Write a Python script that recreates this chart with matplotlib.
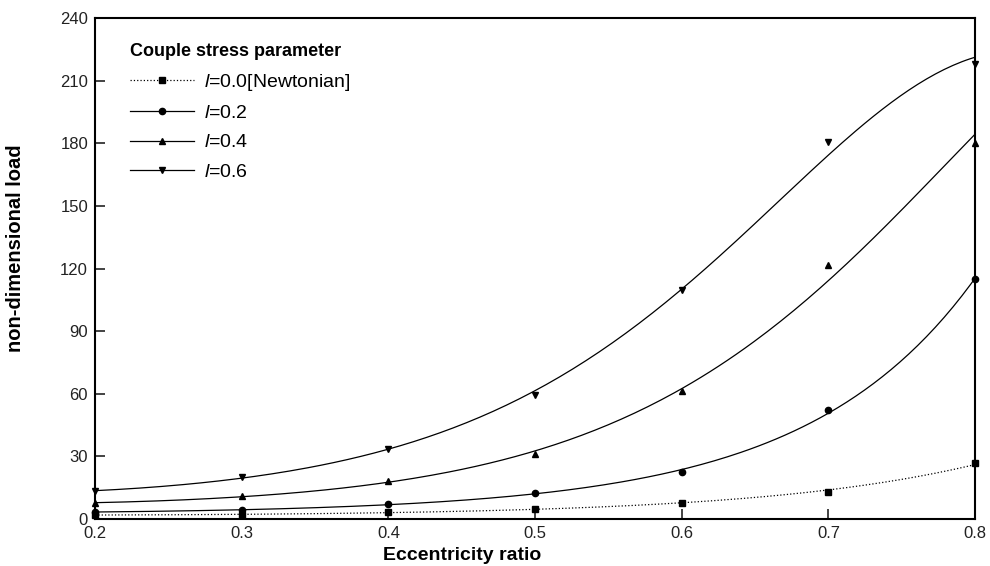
import numpy as np
import matplotlib.pyplot as plt
from matplotlib.lines import Line2D

plt.rcParams['font.family'] = ['Liberation Sans', 'DejaVu Sans']
plt.rcParams['mathtext.fontset'] = 'custom'
plt.rcParams['mathtext.it'] = 'Liberation Sans:italic'

ecc = [0.2, 0.3, 0.4, 0.5, 0.6, 0.7, 0.8]
load_newtonian = [2.0, 2.0, 3.2, 5.0, 7.7, 13.0, 27.0]
load_l02 = [3.4, 4.3, 7.0, 12.5, 22.5, 52.0, 115.0]
load_l04 = [7.7, 11.0, 18.0, 31.0, 61.3, 121.5, 180.0]
load_l06 = [13.4, 20.2, 33.5, 59.5, 109.7, 180.6, 218.0]

labels = [r"$\mathit{l}$=0.0[Newtonian]", r"$\mathit{l}$=0.2",
          r"$\mathit{l}$=0.4", r"$\mathit{l}$=0.6"]
series = [load_newtonian, load_l02, load_l04, load_l06]
markers = ["s", "o", "^", "v"]
styles = [":", "-", "-", "-"]

fig = plt.figure(figsize=(9.9, 5.66), dpi=100)
ax = fig.add_axes([0.096, 0.083, 0.889, 0.885])

xs = np.linspace(0.2, 0.8, 200)
handles = []
for y, m, ls, lab in zip(series, markers, styles, labels):
    # smooth fit (cubic in log space) through the points
    coef = np.polyfit(ecc, np.log(y), 3)
    ax.plot(xs, np.exp(np.polyval(coef, xs)), color="black", lw=0.9, ls=ls)
    ax.plot(ecc, y, m, color="black", ms=4.5, clip_on=False)
    handles.append(Line2D([], [], color="black", lw=0.9, ls=ls, marker=m, ms=4.5, label=lab))

ax.set_xlim(0.2, 0.8)
ax.set_ylim(0, 240)
ax.set_xticks(ecc)
ax.set_yticks(np.arange(0, 241, 30))
ax.tick_params(direction="in", length=7, width=1.2, labelsize=12, colors="#222222", pad=5)
for s in ax.spines.values():
    s.set_linewidth(1.5)

ax.set_xlabel("Eccentricity ratio", fontsize=14, fontweight="bold")
ax.xaxis.set_label_coords(0.417, -0.055)
ax.set_ylabel("non-dimensional load", fontsize=14.5, fontweight="bold")
ax.yaxis.set_label_coords(-0.08, 0.54)

leg = ax.legend(handles=handles, loc="upper left", bbox_to_anchor=(0.02, 0.985),
                frameon=False, fontsize=14, handlelength=3.3, labelspacing=0.6,
                handletextpad=0.5, title="Couple stress parameter",
                title_fontproperties={"weight": "bold", "size": 13})
leg._legend_box.align = "left"

fig.savefig("out.png", dpi=100)
